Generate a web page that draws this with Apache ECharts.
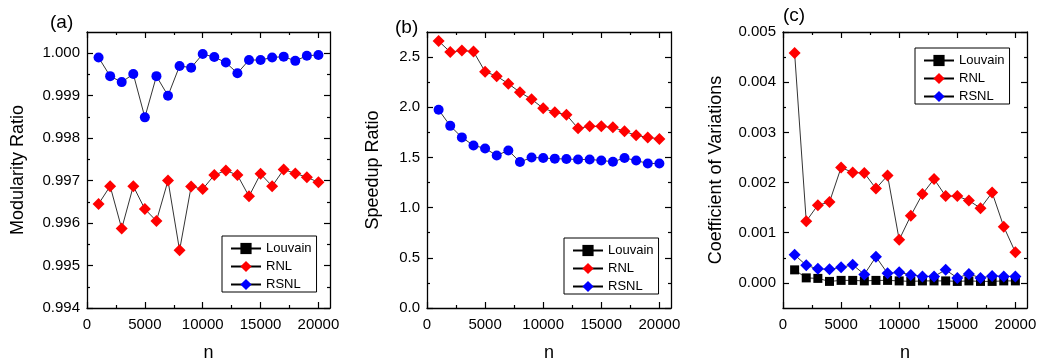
<!DOCTYPE html>
<html>
<head>
<meta charset="utf-8">
<script src="https://cdn.jsdelivr.net/npm/echarts@6/dist/echarts.min.js"></script>
<style>
  html, body { margin: 0; padding: 0; background: #fff; }
  #chart { width: 1039px; height: 363px; }
</style>
</head>
<body>
<div id="chart"></div>
<script>
// network sizes
const nValues = [1000, 2000, 3000, 4000, 5000, 6000, 7000, 8000, 9000, 10000,
  11000, 12000, 13000, 14000, 15000, 16000, 17000, 18000, 19000, 20000]

// (a) modularity ratio
const rnlModularity = [0.99645, 0.99687, 0.99587, 0.99687, 0.99633, 0.99605, 0.99700, 0.99536, 0.99686, 0.99680,
  0.99713, 0.99724, 0.99713, 0.99663, 0.99716, 0.99687, 0.99726, 0.99717, 0.99708, 0.99696]
const rsnlModularity = [0.99990, 0.99946, 0.99932, 0.99951, 0.99849, 0.99946, 0.99900, 0.99970, 0.99966, 0.99998,
  0.99991, 0.99978, 0.99953, 0.99984, 0.99984, 0.99990, 0.99992, 0.99982, 0.99994, 0.99996]

// (b) speedup ratio
const rnlSpeedup = [2.66, 2.55, 2.565, 2.555, 2.355, 2.31, 2.235, 2.15, 2.08, 1.99,
  1.95, 1.925, 1.79, 1.81, 1.81, 1.80, 1.76, 1.72, 1.70, 1.685]
const rsnlSpeedup = [1.975, 1.815, 1.70, 1.62, 1.59, 1.52, 1.57, 1.455, 1.50, 1.495,
  1.488, 1.484, 1.48, 1.48, 1.47, 1.457, 1.495, 1.47, 1.44, 1.44]

// (c) coefficient of variations
const louvainCV = [0.00026, 0.00010, 0.00009, 0.00003, 0.00005, 0.00005, 0.00004, 0.00005, 0.00005, 0.00004,
  0.00003, 0.00004, 0.00004, 0.00004, 0.00003, 0.00004, 0.00003, 0.00003, 0.00004, 0.00004]
const rnlCV = [0.00458, 0.00123, 0.00155, 0.00161, 0.00230, 0.00220, 0.00219, 0.00188, 0.00214, 0.00086,
  0.00134, 0.00177, 0.00207, 0.00173, 0.00173, 0.00164, 0.00149, 0.00180, 0.00112, 0.00061]
const rsnlCV = [0.00056, 0.00035, 0.00028, 0.00027, 0.00031, 0.00036, 0.00017, 0.00052, 0.00019, 0.00021,
  0.00016, 0.00013, 0.00013, 0.00026, 0.00010, 0.00018, 0.00010, 0.00014, 0.00013, 0.00013]

// tick labels
const nTicks = [0, 5000, 10000, 15000, 20000]
const ticksA = [0.994, 0.995, 0.996, 0.997, 0.998, 0.999, 1.000]
const ticksB = [0, 0.5, 1.0, 1.5, 2.0, 2.5]
const ticksC = [0, 0.001, 0.002, 0.003, 0.004, 0.005]

const FONT = '"Liberation Sans", Arial, sans-serif'

const halfway = (ticks) => ticks.slice(1).map((t, i) => (t + ticks[i]) / 2)

// 4 axes per side pair: main + minor ticks, mirrored frame + minor ticks
function frameAxes(dim, grid, min, max, major, fmt, name, nameGap) {
  const minor = halfway(major)
  const pos = dim === 'x' ? ['bottom', 'top'] : ['left', 'right']
  const base = {
    type: 'value', gridIndex: grid, min, max,
    splitLine: { show: false },
    axisLine: { onZero: false, lineStyle: { color: '#000', width: 1.3 } }
  }
  const ticks = (vals, len) => ({
    show: true, inside: true, length: len, customValues: vals,
    lineStyle: { color: '#000', width: 1.2 }
  })
  const main = Object.assign({}, base, {
    position: pos[0],
    axisTick: ticks(major, 6),
    axisLabel: {
      customValues: major, formatter: fmt, color: '#000',
      fontFamily: FONT, fontSize: 15, margin: dim === 'x' ? 9 : 7
    },
    name, nameLocation: 'middle', nameGap,
    nameTextStyle: { fontFamily: FONT, fontSize: 18, color: '#000' }
  })
  const hidden = { show: false }
  return [
    main,
    Object.assign({}, base, { position: pos[0], axisLine: { show: false, onZero: false }, axisTick: ticks(minor, 3), axisLabel: hidden }),
    Object.assign({}, base, { position: pos[1], axisTick: ticks(major, 6), axisLabel: hidden }),
    Object.assign({}, base, { position: pos[1], axisLine: { show: false, onZero: false }, axisTick: ticks(minor, 3), axisLabel: hidden })
  ]
}

const grids = [
  { left: 87, top: 32, width: 243, height: 276, outerBoundsMode: 'none' },
  { left: 427, top: 32, width: 244, height: 276, outerBoundsMode: 'none' },
  { left: 783, top: 32, width: 244, height: 276, outerBoundsMode: 'none' }
]

const xAxes = [0, 1, 2].flatMap(g =>
  frameAxes('x', g, 0, 21000, nTicks, v => String(v), 'n', 36))

const yAxes = [
  ...frameAxes('y', 0, 0.994, 1.0005, ticksA, v => v.toFixed(3), 'Modularity Ratio', 60),
  ...frameAxes('y', 1, 0, 2.75, ticksB, v => v.toFixed(1), 'Speedup Ratio', 45),
  ...frameAxes('y', 2, -0.0005, 0.005, ticksC, v => v.toFixed(3), 'Coefficient of Variations', 58)
]

const pts = (vals) => nValues.map((n, i) => [n, vals[i]])
const circles = (vals) => nValues.map((n, i) => ({ value: [n, vals[i]], symbol: 'circle', symbolSize: 10 }))

function line(name, panel, data, symbol, size, color) {
  return {
    type: 'line', name, data,
    xAxisIndex: panel * 4, yAxisIndex: panel * 4,
    symbol, symbolSize: size, showAllSymbol: true,
    itemStyle: { color },
    lineStyle: { color: '#000', width: 0.8 },
    emphasis: { disabled: true },
    z: 3
  }
}

const series = [
  line('Louvain', 0, [], 'square', 9, '#000'),
  line('RNL', 0, pts(rnlModularity), 'diamond', 12, '#ff0000'),
  line('RSNL', 0, circles(rsnlModularity), 'diamond', 12, '#0000ff'),
  line('Louvain', 1, [], 'square', 9, '#000'),
  line('RNL', 1, pts(rnlSpeedup), 'diamond', 12, '#ff0000'),
  line('RSNL', 1, circles(rsnlSpeedup), 'diamond', 12, '#0000ff'),
  line('Louvain', 2, pts(louvainCV), 'square', 9, '#000'),
  line('RNL', 2, pts(rnlCV), 'diamond', 12, '#ff0000'),
  line('RSNL', 2, pts(rsnlCV), 'diamond', 12, '#0000ff')
]

const legendNames = ['Louvain', 'RNL', 'RSNL']
const legendAt = (left, top) => ({
  data: legendNames, orient: 'vertical', left, top,
  itemWidth: 30, itemHeight: 14, itemGap: 3,
  padding: [5, 5, 0, 8],
  borderColor: '#000', borderWidth: 1,
  selectedMode: false,
  textStyle: { fontFamily: FONT, fontSize: 13, lineHeight: 15, color: '#000' }
})

const panelTitle = (text, left, top) => ({
  text, left, top, padding: 0,
  textStyle: { fontFamily: FONT, fontSize: 19, fontWeight: 'normal', color: '#000', lineHeight: 20 }
})

const chart = echarts.init(document.getElementById('chart'), null, { renderer: 'canvas' })
chart.setOption({
  animation: false,
  backgroundColor: '#fff',
  title: [panelTitle('(a)', 50, 13), panelTitle('(b)', 395, 18), panelTitle('(c)', 783, 6)],
  legend: [legendAt(222, 236), legendAt(564, 238), legendAt(915, 48)],
  grid: grids,
  xAxis: xAxes,
  yAxis: yAxes,
  series
})
</script>
</body>
</html>
